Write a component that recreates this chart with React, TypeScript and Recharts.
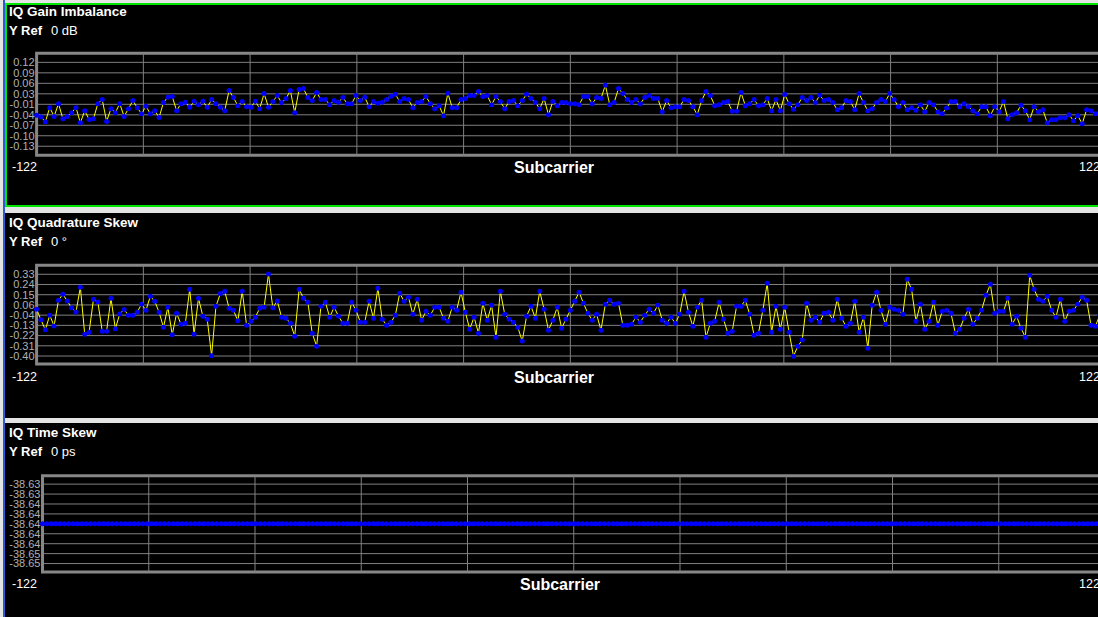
import React from 'react';
import { LineChart, Line, XAxis, YAxis, CartesianGrid, ReferenceLine, ReferenceArea } from 'recharts';

// subcarrier index -122 .. 122
const subcarriers = Array.from({ length: 245 }, (_, i) => i - 122);

const gainImbalance = [
  -0.038, -0.043, -0.057, -0.015, -0.041, -0.003, -0.048, -0.041, -0.030, -0.015,
  -0.060, -0.024, -0.050, -0.048, -0.003, 0.009, -0.056, -0.018, -0.030, -0.003,
  -0.041, -0.018, 0.006, -0.015, -0.033, -0.011, -0.033, -0.024, -0.044, 0.000,
  0.016, 0.018, -0.024, -0.003, 0.001, -0.014, 0.004, -0.006, 0.004, -0.014,
  0.009, -0.003, -0.014, -0.024, 0.036, 0.015, -0.009, 0.003, -0.012, -0.014,
  0.004, -0.018, 0.027, -0.014, 0.003, 0.021, 0.000, 0.012, 0.036, -0.030,
  0.039, 0.042, 0.015, 0.006, 0.030, 0.009, 0.009, -0.006, 0.006, 0.001,
  0.015, -0.003, -0.003, 0.021, 0.006, 0.016, -0.012,
  0.003, -0.002, 0.001, 0.009, 0.019, 0.025, 0.003, 0.012, 0.009, -0.015,
  0.000, 0.003, 0.018, -0.003, -0.018, -0.009, -0.039, 0.028, -0.015, -0.015,
  0.009, 0.012, 0.021, 0.021, 0.033, 0.018, 0.021, -0.006, 0.018, 0.003,
  -0.018, 0.003, 0.006, -0.009, 0.006, 0.025, 0.012, 0.000, -0.018, 0.012,
  -0.036, 0.003, -0.009, 0.000, 0.000, -0.003, -0.003, -0.006, 0.018, 0.018,
  -0.003, 0.015, 0.012, 0.052, -0.006, 0.000, 0.042, 0.027, 0.009, 0.000,
  0.009, -0.003, 0.015, 0.021, 0.012, 0.012, -0.027, 0.006, -0.015, -0.012,
  -0.012, 0.009, 0.006, -0.012, -0.036, 0.006, 0.033, 0.021, -0.009, -0.006,
  0.000, 0.003,
  -0.026, -0.026, 0.030, -0.009, -0.003, 0.009, -0.009, -0.006, 0.012, -0.024,
  0.009, -0.024, 0.024, -0.003, -0.020, -0.006, 0.015, 0.006, 0.015, 0.000,
  0.022, 0.006, 0.009, 0.000, -0.021, -0.015, 0.006, 0.003, -0.021, 0.027,
  0.000, -0.024, -0.018, 0.000, 0.009, 0.003, 0.027, 0.009, -0.012, 0.000,
  -0.021, -0.015, -0.023, -0.006, -0.027, 0.000, -0.006, -0.027, -0.033, -0.016,
  0.003, 0.003, -0.012, -0.003, -0.012, -0.024, -0.033, -0.012, -0.012, -0.039,
  -0.012, -0.027, 0.003, -0.048, -0.036, -0.030, -0.008, -0.024, -0.051, -0.012,
  -0.027, -0.021, -0.060, -0.051, -0.051, -0.045, -0.045, -0.036, -0.054, -0.039,
  -0.063, -0.021, -0.024, -0.033, -0.030, -0.027,
];

const quadratureSkew = [
  0.018, -0.077, -0.166, -0.036, -0.131, 0.098, 0.152, 0.092, 0.030, -0.006,
  0.214, -0.205, -0.187, 0.107, 0.083, -0.178, -0.178, 0.116, -0.157, -0.024,
  0.015, -0.036, -0.036, -0.006, 0.063, 0.009, 0.134, 0.089, -0.009, -0.143,
  0.036, -0.211, -0.018, -0.116, -0.107, 0.196, -0.205, 0.116, -0.044, -0.071,
  -0.398, 0.045, 0.158, 0.178, 0.027, 0.009, -0.086, 0.178, -0.125, -0.089,
  -0.053, 0.027, 0.036, 0.333, 0.030, 0.092,
  -0.053, -0.062, -0.107, -0.223, 0.196, 0.116, 0.080, -0.196, -0.312, 0.045,
  0.080, -0.053, 0.036, -0.044, -0.107, -0.107, 0.080, 0.009, -0.098, -0.098,
  0.089, -0.062, 0.205, -0.071, -0.125, -0.098, -0.036, 0.161, 0.089, 0.125,
  -0.027, 0.107, -0.080, 0.000, -0.036, 0.036, 0.036, -0.062, -0.089, 0.036,
  0.009, 0.170, -0.009, -0.160, -0.053, -0.196, 0.071, -0.080, 0.054, -0.232,
  0.178, -0.027, -0.071, -0.098, -0.145, -0.267, -0.044, 0.045, -0.062, 0.178,
  0.018, -0.169,
  -0.080, 0.036, -0.151, -0.071, 0.009, 0.089, 0.170, 0.071, -0.018, -0.080,
  -0.027, -0.169, 0.063, 0.098, 0.063, 0.071, -0.125, -0.125, -0.116, -0.053,
  -0.098, -0.036, 0.018, -0.018, 0.054, -0.080, -0.107, -0.053, -0.107, -0.027,
  0.178, -0.009, -0.134, 0.036, 0.098, -0.232, -0.107, -0.089, 0.080, -0.071,
  -0.196, -0.178, 0.045, 0.045, 0.098, -0.027, -0.214, -0.196, 0.009, 0.250,
  -0.187, 0.045, -0.160, 0.036, -0.187, -0.401, -0.312, -0.258, 0.071, -0.080,
  -0.053, -0.098,
  -0.018, -0.009, -0.080, 0.107, -0.062, -0.134, -0.107, 0.089, -0.187, -0.053,
  -0.330, 0.054, 0.170, 0.009, -0.116, 0.036, 0.018, 0.009, -0.027, 0.285,
  0.196, -0.089, 0.063, -0.160, -0.089, 0.080, -0.125, 0.000, 0.009, -0.018,
  -0.196, -0.160, -0.062, 0.018, -0.116, -0.062, 0.009, 0.143, 0.241, -0.018,
  0.000, 0.000, 0.116, -0.116, -0.044, -0.151, -0.232, 0.321, 0.196, 0.107,
  0.089, 0.134, 0.009, -0.053, 0.107, -0.089, 0.000, 0.009, 0.063, 0.125,
  0.098, -0.125, -0.134, -0.036, 0.020,
];

// flat trace, every subcarrier reads -38.64 ps
const timeSkew = [
  -38.64, -38.64, -38.64, -38.64, -38.64, -38.64, -38.64, -38.64, -38.64, -38.64, -38.64, -38.64, -38.64, -38.64, -38.64, -38.64, -38.64, -38.64, -38.64, -38.64, -38.64, -38.64, -38.64, -38.64, -38.64, -38.64, -38.64, -38.64, -38.64, -38.64, -38.64, -38.64, -38.64, -38.64, -38.64,
  -38.64, -38.64, -38.64, -38.64, -38.64, -38.64, -38.64, -38.64, -38.64, -38.64, -38.64, -38.64, -38.64, -38.64, -38.64, -38.64, -38.64, -38.64, -38.64, -38.64, -38.64, -38.64, -38.64, -38.64, -38.64, -38.64, -38.64, -38.64, -38.64, -38.64, -38.64, -38.64, -38.64, -38.64, -38.64,
  -38.64, -38.64, -38.64, -38.64, -38.64, -38.64, -38.64, -38.64, -38.64, -38.64, -38.64, -38.64, -38.64, -38.64, -38.64, -38.64, -38.64, -38.64, -38.64, -38.64, -38.64, -38.64, -38.64, -38.64, -38.64, -38.64, -38.64, -38.64, -38.64, -38.64, -38.64, -38.64, -38.64, -38.64, -38.64,
  -38.64, -38.64, -38.64, -38.64, -38.64, -38.64, -38.64, -38.64, -38.64, -38.64, -38.64, -38.64, -38.64, -38.64, -38.64, -38.64, -38.64, -38.64, -38.64, -38.64, -38.64, -38.64, -38.64, -38.64, -38.64, -38.64, -38.64, -38.64, -38.64, -38.64, -38.64, -38.64, -38.64, -38.64, -38.64,
  -38.64, -38.64, -38.64, -38.64, -38.64, -38.64, -38.64, -38.64, -38.64, -38.64, -38.64, -38.64, -38.64, -38.64, -38.64, -38.64, -38.64, -38.64, -38.64, -38.64, -38.64, -38.64, -38.64, -38.64, -38.64, -38.64, -38.64, -38.64, -38.64, -38.64, -38.64, -38.64, -38.64, -38.64, -38.64,
  -38.64, -38.64, -38.64, -38.64, -38.64, -38.64, -38.64, -38.64, -38.64, -38.64, -38.64, -38.64, -38.64, -38.64, -38.64, -38.64, -38.64, -38.64, -38.64, -38.64, -38.64, -38.64, -38.64, -38.64, -38.64, -38.64, -38.64, -38.64, -38.64, -38.64, -38.64, -38.64, -38.64, -38.64, -38.64,
  -38.64, -38.64, -38.64, -38.64, -38.64, -38.64, -38.64, -38.64, -38.64, -38.64, -38.64, -38.64, -38.64, -38.64, -38.64, -38.64, -38.64, -38.64, -38.64, -38.64, -38.64, -38.64, -38.64, -38.64, -38.64, -38.64, -38.64, -38.64, -38.64, -38.64, -38.64, -38.64, -38.64, -38.64, -38.64,
];

const gainTicks = [0.12, 0.08875, 0.0575, 0.02625, -0.005, -0.03625, -0.0675, -0.09875, -0.13];
const gainTickLabels = ['0.12', '0.09', '0.06', '0.03', '-0.01', '-0.04', '-0.07', '-0.10', '-0.13'];

const quadTicks = [0.33, 0.23875, 0.1475, 0.05625, -0.035, -0.12625, -0.2175, -0.30875, -0.4];
const quadTickLabels = ['0.33', '0.24', '0.15', '0.06', '-0.04', '-0.13', '-0.22', '-0.31', '-0.40'];

const timeTicks = [-38.632, -38.634, -38.636, -38.638, -38.64, -38.642, -38.644, -38.646, -38.648];
const timeTickLabels = ['-38.63', '-38.63', '-38.64', '-38.64', '-38.64', '-38.64', '-38.64', '-38.65', '-38.65'];

// vertical divisions of the subcarrier axis
const gridX = [-97.6, -73.2, -48.8, -24.4, 0, 24.4, 48.8, 73.2, 97.6];

const FONT = '"Liberation Sans", Arial, sans-serif';

type TraceProps = {
  top: number;
  height: number;
  values: number[];
  ticks: number[];
  labels: string[];
  domain: [number, number];
  marginTop: number;
  axisWidth: number;
  marginRight: number;
};

const Trace = ({ top, height, values, ticks, labels, domain, marginTop, axisWidth, marginRight }: TraceProps) => {
  const data = subcarriers.map((sc, i) => ({ sc, v: values[i] }));
  return (
    <div style={{ position: 'absolute', left: 0, top }}>
      <LineChart width={1110} height={height} data={data} margin={{ top: marginTop, right: marginRight, bottom: 2, left: 0 }}>
        <XAxis type="number" dataKey="sc" domain={[-122, 122]} hide />
        <YAxis
          type="number"
          domain={domain}
          ticks={ticks}
          interval={0}
          width={axisWidth}
          axisLine={false}
          tickLine={false}
          tickSize={0}
          tickMargin={2}
          tick={{ fill: '#b0b0b0', fontSize: 11, fontFamily: FONT }}
          tickFormatter={(v: number) => labels[ticks.indexOf(v)]}
        />
        <CartesianGrid vertical={false} stroke="#808080" />
        {gridX.map((x) => (
          <ReferenceLine key={x} x={x} stroke="#808080" />
        ))}
        <ReferenceArea x1={-122} x2={122} y1={domain[0]} y2={domain[1]} fill="none" stroke="#878787" strokeWidth={3} />
        <Line
          type="linear"
          dataKey="v"
          stroke="#ffff00"
          strokeWidth={1}
          dot={{ r: 2.5, fill: '#0000ff', stroke: 'none' }}
          isAnimationActive={false}
        />
      </LineChart>
    </div>
  );
};

const PanelText = ({ y, title, unit, axisY, subX }: { y: number; title: string; unit: string; axisY: number; subX: number }) => (
  <g fontFamily={FONT}>
    <text x={9} y={y} fill="#fff" fontSize={13.5} fontWeight="bold">{title}</text>
    <text x={9} y={y + 19.7} fill="#fff" fontSize={13} fontWeight="bold">Y Ref</text>
    <text x={51} y={y + 19.7} fill="#fff" fontSize={13}>{unit}</text>
    <text x={12} y={axisY} fill="#fff" fontSize={12.5}>-122</text>
    <text x={subX} y={axisY + 2} fill="#fff" fontSize={16} fontWeight="bold" textAnchor="middle">Subcarrier</text>
    <text x={1079} y={axisY} fill="#fff" fontSize={12.5}>122</text>
  </g>
);

export default function App() {
  return (
    <div style={{ position: 'relative', width: 1098, height: 617, overflow: 'hidden', background: '#e4e4e4' }}>
      <style>{'body{margin:0}'}</style>
      <div style={{ position: 'absolute', left: 3, top: 0, width: 2, height: 617, background: '#2a5bd7' }} />
      <div style={{ position: 'absolute', left: 5, top: 3, width: 1200, height: 204, boxSizing: 'border-box', border: '2px solid #00e600', background: '#000' }} />
      <div style={{ position: 'absolute', left: 5, top: 213, width: 1200, height: 205, background: '#000' }} />
      <div style={{ position: 'absolute', left: 5, top: 423, width: 1200, height: 194, background: '#000' }} />

      <Trace top={0} height={157.3} values={gainImbalance} ticks={gainTicks} labels={gainTickLabels} domain={[-0.157, 0.147]} marginTop={53.3} axisWidth={36.6} marginRight={5.9} />
      <Trace top={210} height={156} values={quadratureSkew} ticks={quadTicks} labels={quadTickLabels} domain={[-0.4713, 0.4102]} marginTop={55.3} axisWidth={36.6} marginRight={5.9} />
      <Trace top={420} height={154} values={timeSkew} ticks={timeTicks} labels={timeTickLabels} domain={[-38.6497, -38.6303]} marginTop={55.7} axisWidth={42.5} marginRight={5} />

      <svg width={1098} height={617} style={{ position: 'absolute', left: 0, top: 0, pointerEvents: 'none' }}>
        <PanelText y={15.5} title="IQ Gain Imbalance" unit="0 dB" axisY={171} subX={554} />
        <PanelText y={226.5} title="IQ Quadrature Skew" unit="0 °" axisY={380.7} subX={554} />
        <PanelText y={436.5} title="IQ Time Skew" unit="0 ps" axisY={587.7} subX={560} />
      </svg>
    </div>
  );
}
